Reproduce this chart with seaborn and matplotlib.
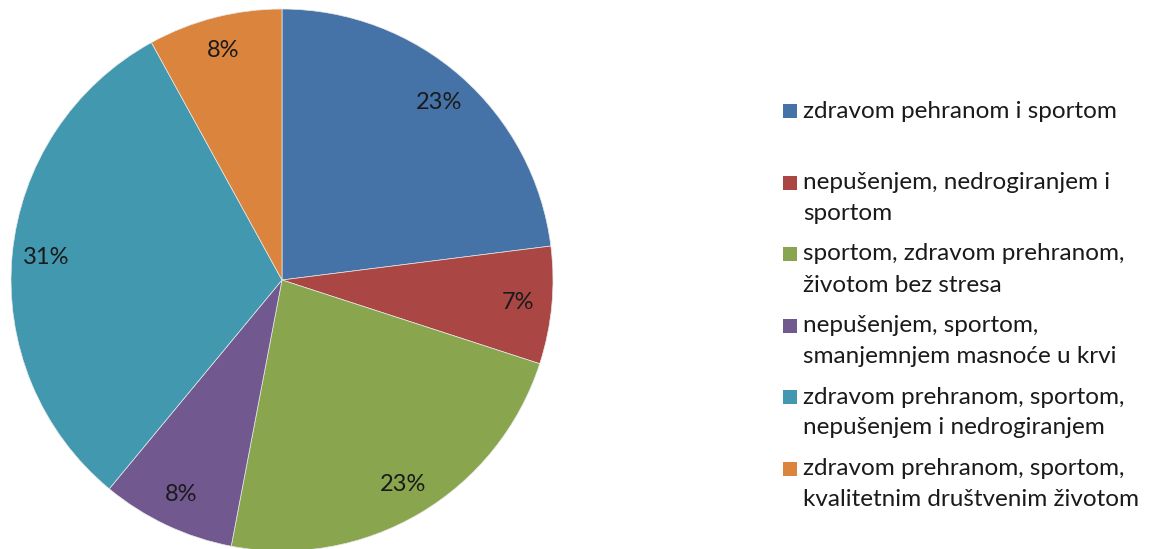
import matplotlib
matplotlib.use("Agg")
import matplotlib.pyplot as plt
from matplotlib.patches import Rectangle
import seaborn as sns

sns.set_theme(style="white")
plt.rcParams["font.family"] = ["Lato", "DejaVu Sans"]

categories = [
    "zdravom pehranom i sportom",
    "nepušenjem, nedrogiranjem i\nsportom",
    "sportom, zdravom prehranom,\nživotom bez stresa",
    "nepušenjem, sportom,\nsmanjemnjem masnoće u krvi",
    "zdravom prehranom, sportom,\nnepušenjem i nedrogiranjem",
    "zdravom prehranom, sportom,\nkvalitetnim društvenim životom",
]
shares = [23, 7, 23, 8, 31, 8]
colors = sns.color_palette(["#4572A7", "#AA4643", "#89A54E", "#71588F", "#4198AF", "#DB843D"])

W, H = 1156, 549
fig = plt.figure(figsize=(W / 100, H / 100), dpi=100)

# pie axes: centre at (282, 280) px, radius 271 px
cx, cy, r = 282, 280, 271
ax = fig.add_axes([(cx - r) / W, (H - cy - r) / H, 2 * r / W, 2 * r / H])
wedges, texts, autotexts = ax.pie(
    shares,
    colors=colors,
    startangle=90,
    counterclock=False,
    autopct=lambda p: f"{p:.0f}%",
    pctdistance=0.875,
    wedgeprops=dict(edgecolor="#e8e8e8", linewidth=0.5),
    textprops=dict(fontsize=17, color="#1a1a1a"),
    radius=1.0,
)
ax.set_xlim(-1, 1)
ax.set_ylim(-1, 1)
ax.set_aspect("equal")
ax.axis("off")

# legend on the right: square swatch plus wrapped text
y0, step, line_h = 111, 71.5, 31
sq = 14
for i, (lab, col) in enumerate(zip(categories, colors)):
    yc = y0 + i * step
    fig.patches.append(Rectangle((783 / W, (H - yc - sq / 2) / H), sq / W, sq / H,
                                 transform=fig.transFigure, facecolor=col,
                                 edgecolor="none", figure=fig))
    for j, line in enumerate(lab.split("\n")):
        fig.text(803 / W, (H - (yc + j * line_h)) / H, line,
                 ha="left", va="center", fontsize=17.5, color="#1a1a1a")

fig.savefig("out.png", dpi=100, facecolor="white")
